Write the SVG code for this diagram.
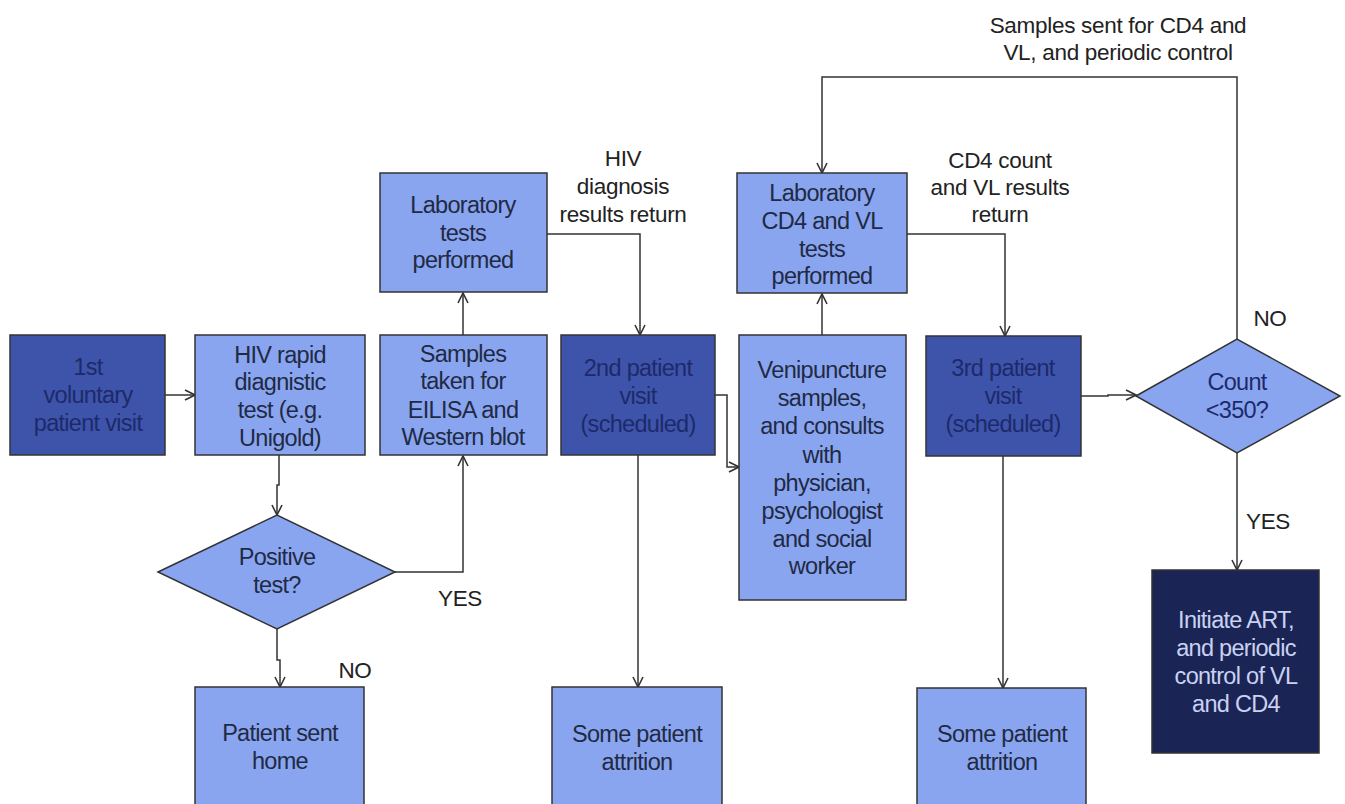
<svg xmlns="http://www.w3.org/2000/svg" width="1345" height="804" viewBox="0 0 1345 804">
<defs>
<marker id="ar" viewBox="0 0 12 12" refX="11" refY="6" markerWidth="12" markerHeight="12" markerUnits="userSpaceOnUse" orient="auto">
<path d="M1,1 L11,6 L1,11" fill="none" stroke="#333" stroke-width="1.6"/>
</marker>
<style>
.lt{fill:#8aa5f0;stroke:#333;stroke-width:1.5}
.dk{fill:#3d54aa;stroke:#333;stroke-width:1.5}
.nv{fill:#1b2555;stroke:#333;stroke-width:1.5}
text{font-family:"Liberation Sans",Arial,sans-serif;font-size:23.5px;text-anchor:middle;letter-spacing:-0.7px}
.t{fill:#1f2a44}
.td{fill:#1d2a6a}
.tn{fill:#c9d2f2}
.lb{fill:#222;font-size:22.5px;letter-spacing:-0.3px}
.c{fill:none;stroke:#333;stroke-width:1.5;marker-end:url(#ar)}
</style>
</defs>
<rect width="1345" height="804" fill="#fff"/>
<g id="connectors">
<path class="c" d="M165,395 H195"/>
<path class="c" d="M279,455 V485 H277 V515"/>
<path class="c" d="M277,629 V660 H280 V687"/>
<path class="c" d="M395,572 H463 V456"/>
<path class="c" d="M463,335 V293"/>
<path class="c" d="M547,234 H640 V335"/>
<path class="c" d="M715,395 H727 V467 H739"/>
<path class="c" d="M638,455 V687"/>
<path class="c" d="M822,335 V294"/>
<path class="c" d="M907,234 H1005 V336"/>
<path class="c" d="M1081,396 H1108 V395 H1136"/>
<path class="c" d="M1003,456 V688"/>
<path class="c" d="M1237,339 V77 H822 V173"/>
<path class="c" d="M1237,453 V570"/>
<text class="lb" x="623" y="166">HIV</text>
<text class="lb" x="623" y="194">diagnosis</text>
<text class="lb" x="623" y="222">results return</text>
<text class="lb" x="1000" y="168">CD4 count</text>
<text class="lb" x="1000" y="195">and VL results</text>
<text class="lb" x="1000" y="222">return</text>
<text class="lb" x="1118" y="33">Samples sent for CD4 and</text>
<text class="lb" x="1118" y="60">VL, and periodic control</text>
<text class="lb" x="460" y="606">YES</text>
<text class="lb" x="355" y="678">NO</text>
<text class="lb" x="1270" y="326">NO</text>
<text class="lb" x="1268" y="529">YES</text>
</g>
<g id="n1">
<rect class="dk" x="10" y="335" width="155" height="120"/>
<text class="td" x="88" y="375">1st</text>
<text class="td" x="88" y="403">voluntary</text>
<text class="td" x="88" y="431">patient visit</text>
</g>
<g id="n2">
<rect class="lt" x="195" y="335" width="170" height="120"/>
<text class="t" x="280" y="363">HIV rapid</text>
<text class="t" x="280" y="390">diagnistic</text>
<text class="t" x="280" y="418">test (e.g.</text>
<text class="t" x="280" y="446">Unigold)</text>
</g>
<g id="n3">
<polygon class="lt" points="158,572 277,515 395,572 277,629"/>
<text class="t" x="277" y="565">Positive</text>
<text class="t" x="277" y="593">test?</text>
</g>
<g id="n4">
<rect class="lt" x="195" y="687" width="169" height="130"/>
<text class="t" x="280" y="741">Patient sent</text>
<text class="t" x="280" y="769">home</text>
</g>
<g id="n5">
<rect class="lt" x="380" y="335" width="167" height="120"/>
<text class="t" x="463" y="362">Samples</text>
<text class="t" x="463" y="389">taken for</text>
<text class="t" x="463" y="418">EILISA and</text>
<text class="t" x="463" y="445">Western blot</text>
</g>
<g id="n6">
<rect class="lt" x="380" y="173" width="167" height="119"/>
<text class="t" x="463" y="213">Laboratory</text>
<text class="t" x="463" y="241">tests</text>
<text class="t" x="463" y="268">performed</text>
</g>
<g id="n7">
<rect class="dk" x="561" y="335" width="154" height="120"/>
<text class="td" x="638" y="376">2nd patient</text>
<text class="td" x="638" y="404">visit</text>
<text class="td" x="638" y="432">(scheduled)</text>
</g>
<g id="n8">
<rect class="lt" x="552" y="687" width="170" height="130"/>
<text class="t" x="637" y="742">Some patient</text>
<text class="t" x="637" y="770">attrition</text>
</g>
<g id="n9">
<rect class="lt" x="737" y="173" width="170" height="120"/>
<text class="t" x="822" y="201">Laboratory</text>
<text class="t" x="822" y="229">CD4 and VL</text>
<text class="t" x="822" y="257">tests</text>
<text class="t" x="822" y="284">performed</text>
</g>
<g id="n10">
<rect class="lt" x="739" y="335" width="167" height="265"/>
<text class="t" x="822" y="378">Venipuncture</text>
<text class="t" x="822" y="406">samples,</text>
<text class="t" x="822" y="434">and consults</text>
<text class="t" x="822" y="463">with</text>
<text class="t" x="822" y="491">physician,</text>
<text class="t" x="822" y="519">psychologist</text>
<text class="t" x="822" y="547">and social</text>
<text class="t" x="822" y="574">worker</text>
</g>
<g id="n11">
<rect class="dk" x="926" y="336" width="155" height="120"/>
<text class="td" x="1003" y="376">3rd patient</text>
<text class="td" x="1003" y="404">visit</text>
<text class="td" x="1003" y="432">(scheduled)</text>
</g>
<g id="n12">
<rect class="lt" x="917" y="688" width="169" height="130"/>
<text class="t" x="1002" y="742">Some patient</text>
<text class="t" x="1002" y="770">attrition</text>
</g>
<g id="n13">
<polygon class="lt" points="1136,396 1237,339 1340,396 1237,453"/>
<text class="td" x="1237" y="390">Count</text>
<text class="td" x="1237" y="418">&lt;350?</text>
</g>
<g id="n14">
<rect class="nv" x="1152" y="570" width="167" height="183"/>
<text class="tn" x="1236" y="628">Initiate ART,</text>
<text class="tn" x="1236" y="656">and periodic</text>
<text class="tn" x="1236" y="684">control of VL</text>
<text class="tn" x="1236" y="712">and CD4</text>
</g>
</svg>
